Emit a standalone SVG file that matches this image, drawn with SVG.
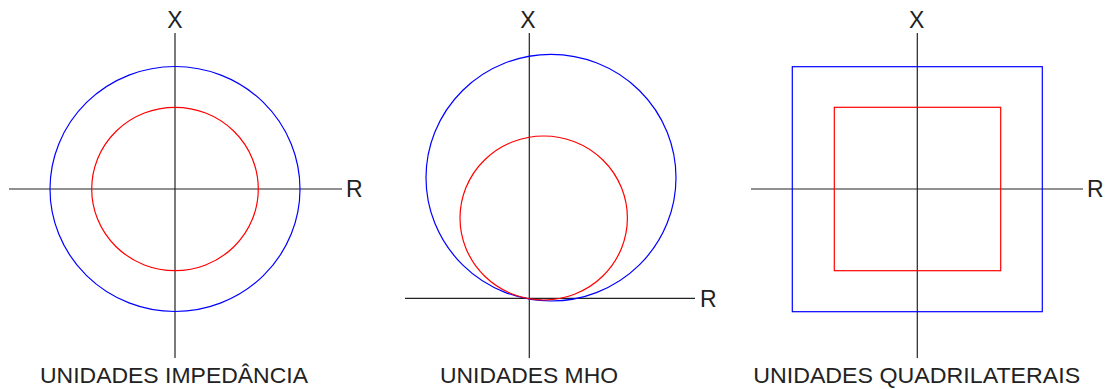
<svg xmlns="http://www.w3.org/2000/svg" width="1107" height="389" viewBox="0 0 1107 389">
<style>
.ax{stroke:#222;stroke-width:1.2;fill:none}
.b{stroke:#0000ff;stroke-width:1.2;fill:none}
.r{stroke:#ff0000;stroke-width:1.2;fill:none}
text{font-family:"Liberation Sans",Arial,sans-serif;fill:#222}
.al{font-size:23px;text-anchor:middle}
.ar{font-size:23px}
.t{font-size:22px;text-anchor:middle}
</style>
<rect width="1107" height="389" fill="#fff"/>
<g id="connectors">
<line class="ax" x1="175" y1="33" x2="175" y2="358"/>
<line class="ax" x1="9" y1="189" x2="342" y2="189"/>
<line class="ax" x1="529.3" y1="33" x2="529.3" y2="358"/>
<line class="ax" x1="405" y1="298.3" x2="695" y2="298.3"/>
<line class="ax" x1="917.3" y1="33" x2="917.3" y2="358"/>
<line class="ax" x1="751" y1="189" x2="1083" y2="189"/>
</g>
<g id="impedancia">
<ellipse class="b" cx="175" cy="189" rx="125" ry="122.5"/>
<ellipse class="r" cx="175" cy="189" rx="83.3" ry="81.7"/>
<text class="al" x="175" y="28">X</text>
<text class="ar" x="346" y="197">R</text>
<text class="t" x="174" y="383" textLength="268" lengthAdjust="spacingAndGlyphs">UNIDADES IMPEDÂNCIA</text>
</g>
<g id="mho">
<ellipse class="b" cx="551" cy="177.7" rx="125" ry="123.3"/>
<ellipse class="r" cx="543.7" cy="218" rx="83.7" ry="82"/>
<text class="al" x="528" y="28">X</text>
<text class="ar" x="700" y="307">R</text>
<text class="t" x="529" y="383" textLength="178" lengthAdjust="spacingAndGlyphs">UNIDADES MHO</text>
</g>
<g id="quadrilaterais">
<rect class="b" x="792.3" y="66.7" width="250" height="245"/>
<rect class="r" x="834.3" y="107.3" width="166.4" height="163.4"/>
<text class="al" x="916.7" y="28">X</text>
<text class="ar" x="1087" y="197">R</text>
<text class="t" x="916.7" y="383" textLength="327" lengthAdjust="spacingAndGlyphs">UNIDADES QUADRILATERAIS</text>
</g>
</svg>
